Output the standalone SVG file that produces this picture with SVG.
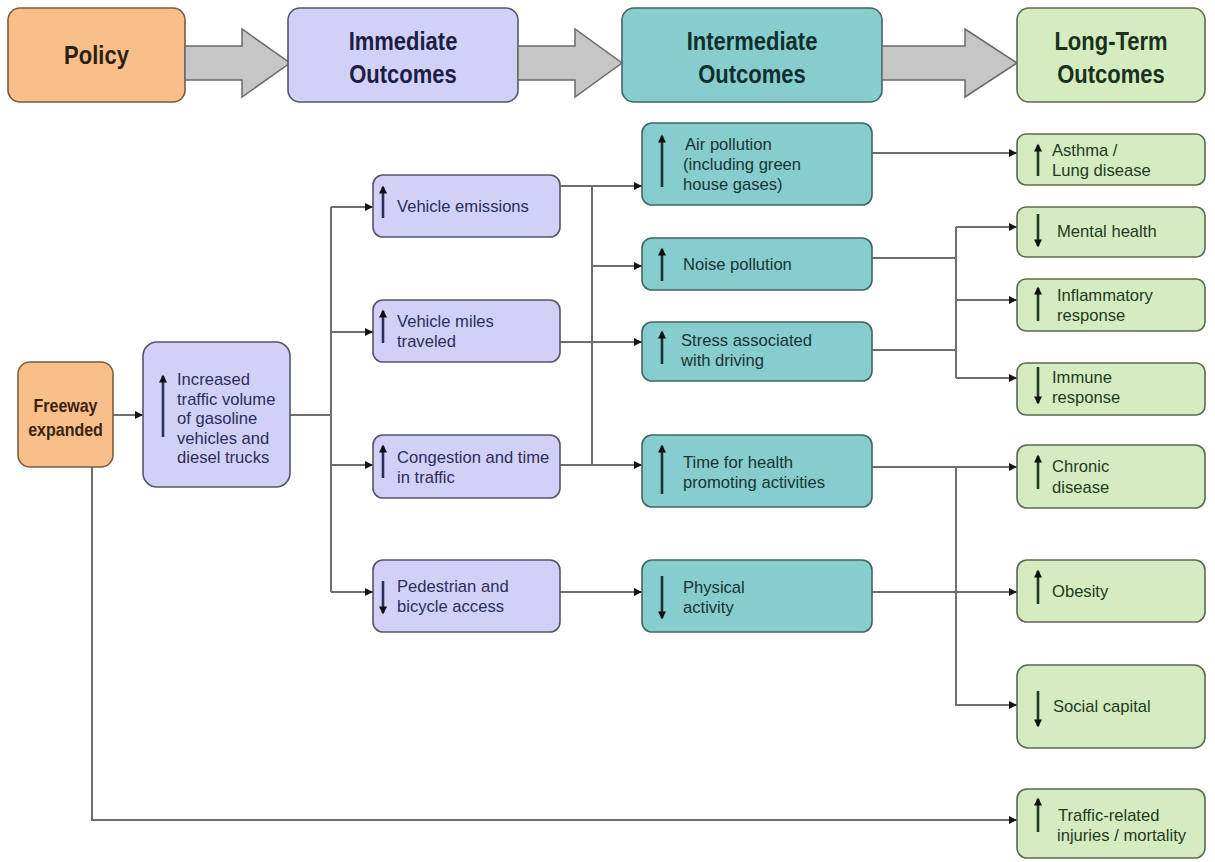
<svg xmlns="http://www.w3.org/2000/svg" width="1215" height="862" viewBox="0 0 1215 862">
<style>
  .or{fill:#f9bf8b;stroke:#7a5c3e;stroke-width:1.6}
  .lv{fill:#d1d1f7;stroke:#55556a;stroke-width:1.6}
  .tl{fill:#88cdcd;stroke:#3f6666;stroke-width:1.6}
  .gr{fill:#d5ecc1;stroke:#5c6a52;stroke-width:1.6}
  .big{fill:#c6c6c6;stroke:#6a6a6a;stroke-width:1.5}
  text{font-family:"Liberation Sans",Arial,Helvetica,sans-serif}
  .h{font-size:22px;font-weight:bold;text-anchor:middle}
  .fb{font-size:16px;font-weight:bold;text-anchor:middle;fill:#3a2410}
  .t{font-size:16.6px}
  .tlv{fill:#2c2c5e}
  .ttl{fill:#173434}
  .tgr{fill:#1f3a1f}
  .c{fill:none;stroke:#6e6e6e;stroke-width:2}
  .sa{fill:none;stroke-width:2.6}
</style>
<defs>
  <marker id="ah" viewBox="0 0 10 10" refX="10" refY="5" markerWidth="9" markerHeight="8" markerUnits="userSpaceOnUse" orient="auto">
    <path d="M0,0 L10,5 L0,10 z" fill="#151515"/>
  </marker>
  <marker id="tip" viewBox="0 0 10 10" refX="8" refY="5" markerWidth="9" markerHeight="8" markerUnits="userSpaceOnUse" orient="auto">
    <path d="M0,0 L10,5 L0,10 z" fill="#111"/>
  </marker>
</defs>

<g id="header">
  <g id="hdr-policy">
    <rect x="8" y="8" width="177" height="94" rx="12" class="or"/>
    <text class="h" fill="#2e1f10" transform="translate(96.5,64) scale(1,1.15)">Policy</text>
  </g>
  <polygon class="big" points="185,46 242,46 242,29 290,63 242,97 242,80 185,80"/>
  <g id="hdr-immediate">
    <rect x="288" y="8" width="230" height="94" rx="12" class="lv"/>
    <text class="h" fill="#1d1d45" transform="translate(403,50) scale(1,1.15)">Immediate</text>
    <text class="h" fill="#1d1d45" transform="translate(403,83) scale(1,1.15)">Outcomes</text>
  </g>
  <polygon class="big" points="518,46 575,46 575,29 622,63 575,97 575,80 518,80"/>
  <g id="hdr-intermediate">
    <rect x="622" y="8" width="260" height="94" rx="12" class="tl"/>
    <text class="h" fill="#0f2f2f" transform="translate(752,50) scale(1,1.15)">Intermediate</text>
    <text class="h" fill="#0f2f2f" transform="translate(752,83) scale(1,1.15)">Outcomes</text>
  </g>
  <polygon class="big" points="882,46 965,46 965,29 1017,63 965,97 965,80 882,80"/>
  <g id="hdr-longterm">
    <rect x="1017" y="8" width="188" height="94" rx="12" class="gr"/>
    <text class="h" fill="#1a321a" transform="translate(1111,50) scale(1,1.15)">Long-Term</text>
    <text class="h" fill="#1a321a" transform="translate(1111,83) scale(1,1.15)">Outcomes</text>
  </g>
</g>

<g id="connectors">
  <path class="c" d="M113,415 H143" marker-end="url(#ah)"/>
  <path class="c" d="M290,415 H331"/>
  <path class="c" d="M331,207 V592"/>
  <path class="c" d="M331,207 H373" marker-end="url(#ah)"/>
  <path class="c" d="M331,332 H373" marker-end="url(#ah)"/>
  <path class="c" d="M331,465 H373" marker-end="url(#ah)"/>
  <path class="c" d="M331,592 H373" marker-end="url(#ah)"/>
  <path class="c" d="M560,186 H642" marker-end="url(#ah)"/>
  <path class="c" d="M592,186 V465"/>
  <path class="c" d="M592,266 H642" marker-end="url(#ah)"/>
  <path class="c" d="M560,342 H642" marker-end="url(#ah)"/>
  <path class="c" d="M560,465 H642" marker-end="url(#ah)"/>
  <path class="c" d="M560,592 H642" marker-end="url(#ah)"/>
  <path class="c" d="M872,153 H1017" marker-end="url(#ah)"/>
  <path class="c" d="M872,258 H956"/>
  <path class="c" d="M872,350 H956"/>
  <path class="c" d="M956,227 V378"/>
  <path class="c" d="M956,227 H1017" marker-end="url(#ah)"/>
  <path class="c" d="M956,300 H1017" marker-end="url(#ah)"/>
  <path class="c" d="M956,378 H1017" marker-end="url(#ah)"/>
  <path class="c" d="M872,467 H1017" marker-end="url(#ah)"/>
  <path class="c" d="M956,467 V705 H1017" marker-end="url(#ah)"/>
  <path class="c" d="M872,592 H1017" marker-end="url(#ah)"/>
  <path class="c" d="M92,467 V820 H1017" marker-end="url(#ah)"/>
</g>

<g id="freeway">
  <rect x="18" y="362" width="95" height="105" rx="12" class="or"/>
  <text class="fb" transform="translate(65.5,412) scale(1,1.15)">Freeway</text>
  <text class="fb" transform="translate(65.5,436) scale(1,1.15)">expanded</text>
</g>

<g id="increased-traffic">
  <rect x="143" y="342" width="147" height="145" rx="14" class="lv"/>
  <path class="sa" stroke="#2c2c5e" d="M163,437 V376" marker-end="url(#tip)"/>
  <text class="t tlv" x="177" y="385">Increased</text>
  <text class="t tlv" x="177" y="404.5">traffic volume</text>
  <text class="t tlv" x="177" y="424">of gasoline</text>
  <text class="t tlv" x="177" y="443.5">vehicles and</text>
  <text class="t tlv" x="177" y="463">diesel trucks</text>
</g>

<g id="vehicle-emissions">
  <rect x="373" y="175" width="187" height="62" rx="10" class="lv"/>
  <path class="sa" stroke="#2c2c5e" d="M383,218 V187" marker-end="url(#tip)"/>
  <text class="t tlv" x="397" y="212">Vehicle emissions</text>
</g>

<g id="vehicle-miles">
  <rect x="373" y="300" width="187" height="62" rx="10" class="lv"/>
  <path class="sa" stroke="#2c2c5e" d="M383,343 V311" marker-end="url(#tip)"/>
  <text class="t tlv" x="397" y="327">Vehicle miles</text>
  <text class="t tlv" x="397" y="347">traveled</text>
</g>

<g id="congestion">
  <rect x="373" y="435" width="187" height="63" rx="10" class="lv"/>
  <path class="sa" stroke="#2c2c5e" d="M383,478 V446" marker-end="url(#tip)"/>
  <text class="t tlv" x="397" y="463">Congestion and time</text>
  <text class="t tlv" x="397" y="483">in traffic</text>
</g>

<g id="pedestrian">
  <rect x="373" y="560" width="187" height="72" rx="10" class="lv"/>
  <path class="sa" stroke="#2c2c5e" d="M383,581 V613" marker-end="url(#tip)"/>
  <text class="t tlv" x="397" y="592">Pedestrian and</text>
  <text class="t tlv" x="397" y="612">bicycle access</text>
</g>

<g id="air-pollution">
  <rect x="642" y="123" width="230" height="82" rx="10" class="tl"/>
  <path class="sa" stroke="#173434" d="M662,187 V136" marker-end="url(#tip)"/>
  <text class="t ttl" x="685" y="150">Air pollution</text>
  <text class="t ttl" x="683" y="170">(including green</text>
  <text class="t ttl" x="683" y="190">house gases)</text>
</g>

<g id="noise-pollution">
  <rect x="642" y="238" width="230" height="52" rx="10" class="tl"/>
  <path class="sa" stroke="#173434" d="M662,281 V249" marker-end="url(#tip)"/>
  <text class="t ttl" x="683" y="270">Noise pollution</text>
</g>

<g id="stress">
  <rect x="642" y="322" width="230" height="59" rx="10" class="tl"/>
  <path class="sa" stroke="#173434" d="M662,364 V332" marker-end="url(#tip)"/>
  <text class="t ttl" x="681" y="346">Stress associated</text>
  <text class="t ttl" x="681" y="366">with driving</text>
</g>

<g id="time-health">
  <rect x="642" y="435" width="230" height="72" rx="10" class="tl"/>
  <path class="sa" stroke="#173434" d="M662,494 V446" marker-end="url(#tip)"/>
  <text class="t ttl" x="683" y="468">Time for health</text>
  <text class="t ttl" x="683" y="488">promoting activities</text>
</g>

<g id="physical-activity">
  <rect x="642" y="560" width="230" height="72" rx="10" class="tl"/>
  <path class="sa" stroke="#173434" d="M662,576 V618" marker-end="url(#tip)"/>
  <text class="t ttl" x="683" y="593">Physical</text>
  <text class="t ttl" x="683" y="613">activity</text>
</g>

<g id="asthma">
  <rect x="1017" y="134" width="188" height="51" rx="9" class="gr"/>
  <path class="sa" stroke="#1f3a1f" d="M1038,176 V145" marker-end="url(#tip)"/>
  <text class="t tgr" x="1052" y="156">Asthma /</text>
  <text class="t tgr" x="1052" y="175.5">Lung disease</text>
</g>

<g id="mental-health">
  <rect x="1017" y="207" width="188" height="50" rx="9" class="gr"/>
  <path class="sa" stroke="#1f3a1f" d="M1038,214 V246" marker-end="url(#tip)"/>
  <text class="t tgr" x="1057" y="237">Mental health</text>
</g>

<g id="inflammatory">
  <rect x="1017" y="279" width="188" height="52" rx="9" class="gr"/>
  <path class="sa" stroke="#1f3a1f" d="M1038,321 V288" marker-end="url(#tip)"/>
  <text class="t tgr" x="1057" y="301">Inflammatory</text>
  <text class="t tgr" x="1057" y="320.5">response</text>
</g>

<g id="immune">
  <rect x="1017" y="363" width="188" height="52" rx="9" class="gr"/>
  <path class="sa" stroke="#1f3a1f" d="M1038,367 V403" marker-end="url(#tip)"/>
  <text class="t tgr" x="1052" y="383">Immune</text>
  <text class="t tgr" x="1052" y="402.5">response</text>
</g>

<g id="chronic">
  <rect x="1017" y="445" width="188" height="63" rx="10" class="gr"/>
  <path class="sa" stroke="#1f3a1f" d="M1038,489 V456" marker-end="url(#tip)"/>
  <text class="t tgr" x="1052" y="472">Chronic</text>
  <text class="t tgr" x="1052" y="493">disease</text>
</g>

<g id="obesity">
  <rect x="1017" y="560" width="188" height="62" rx="10" class="gr"/>
  <path class="sa" stroke="#1f3a1f" d="M1038,604 V571" marker-end="url(#tip)"/>
  <text class="t tgr" x="1052" y="597">Obesity</text>
</g>

<g id="social-capital">
  <rect x="1017" y="665" width="188" height="83" rx="11" class="gr"/>
  <path class="sa" stroke="#1f3a1f" d="M1038,691 V726" marker-end="url(#tip)"/>
  <text class="t tgr" x="1053" y="712">Social capital</text>
</g>

<g id="traffic-injuries">
  <rect x="1017" y="789" width="188" height="69" rx="10" class="gr"/>
  <path class="sa" stroke="#1f3a1f" d="M1038,832 V799" marker-end="url(#tip)"/>
  <text class="t tgr" x="1058" y="821">Traffic-related</text>
  <text class="t tgr" x="1057" y="841">injuries / mortality</text>
</g>
</svg>
